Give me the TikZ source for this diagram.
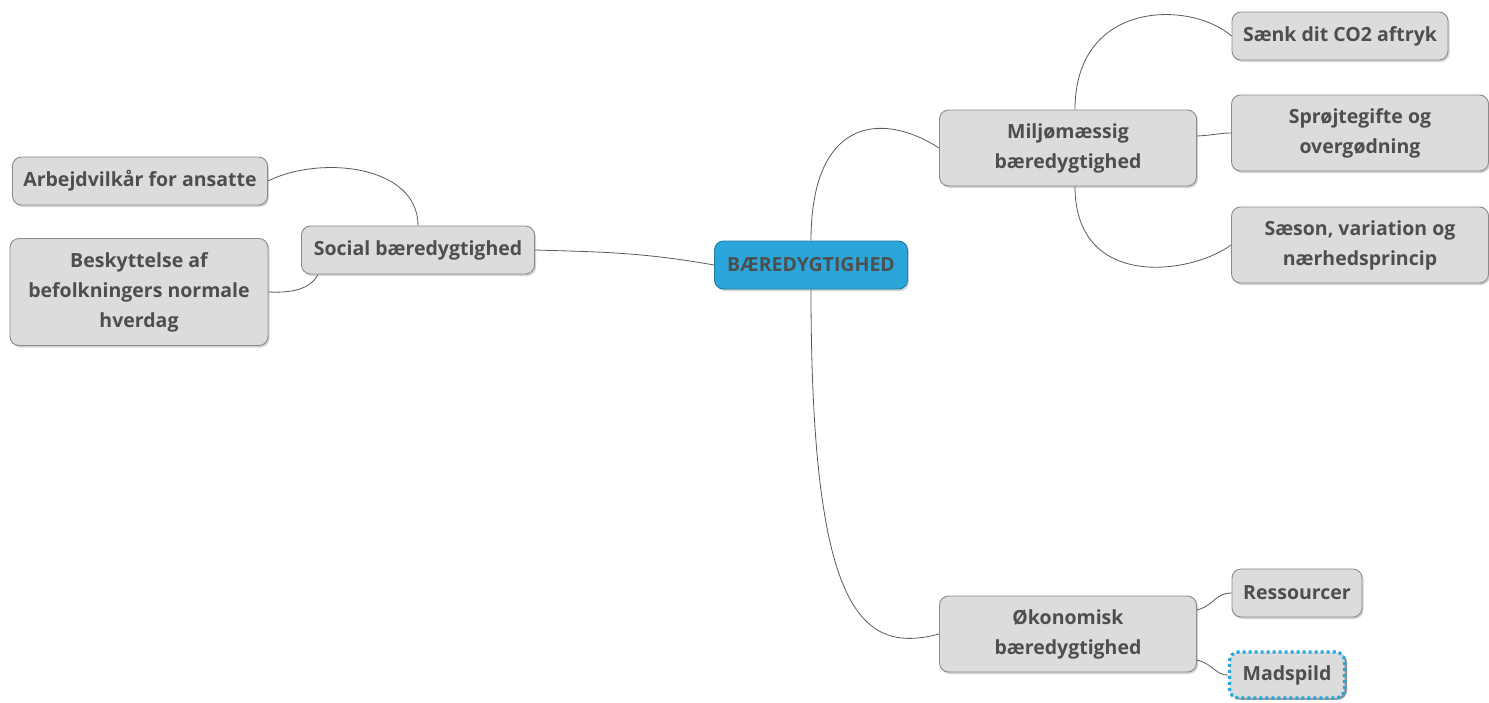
\documentclass[tikz,border=0pt]{standalone}
\usepackage{fontspec}
\setmainfont{Open Sans}
\usetikzlibrary{positioning,shadows}
\definecolor{boxfill}{HTML}{DCDCDC}
\definecolor{boxline}{HTML}{8A8A8A}
\definecolor{boxtext}{HTML}{4E4E4E}
\definecolor{hubfill}{HTML}{2AA6DA}
\definecolor{hubline}{HTML}{1C7DA6}
\definecolor{dotline}{HTML}{22A8E0}
\tikzset{
topic/.style={
  rectangle,
  rounded corners=9pt,
  draw=boxline,
  line width=0.9pt,
  fill=boxfill,
  text=boxtext,
  font=\fontsize{19.5}{30}\selectfont\bfseries,
  align=center,
  inner xsep=4pt,
  minimum height=48pt,
  drop shadow={shadow xshift=1.5pt,shadow yshift=-2pt,opacity=.35}
  },
twoline/.style={topic, minimum width=257pt, minimum height=76pt},
hub/.style={topic, fill=hubfill, draw=hubline},
link/.style={draw=black!65, line width=0.8pt}
}

\begin{document}
\begin{tikzpicture}[x=1pt,y=-1pt]
\useasboundingbox (0,0) rectangle (1489,702);

\node[hub, minimum width=193pt] (hub) at (811,265) {BÆREDYGTIGHED};

\node[topic, minimum width=233pt] (social) at (418,250) {Social bæredygtighed};
\node[topic, minimum width=255pt] (arbejd) at (140,181) {Arbejdvilkår for ansatte};
\node[twoline, minimum width=258pt, minimum height=107pt] (beskyt) at (139,292)
  {Beskyttelse af\\befolkningers normale\\hverdag};

\node[twoline] (miljo) at (1068,148) {Miljømæssig\\bæredygtighed};
\node[topic, minimum width=216pt] (co2) at (1340,36) {Sænk dit CO2 aftryk};
\node[twoline] (sprojt) at (1360,133) {Sprøjtegifte og\\overgødning};
\node[twoline] (saeson) at (1360,245) {Sæson, variation og\\nærhedsprincip};

\node[twoline] (okonom) at (1068,634) {Økonomisk\\bæredygtighed};
\node[topic, minimum width=130pt] (ressource) at (1297,593) {Ressourcer};
\node[topic, minimum width=115pt, minimum height=46pt,
  drop shadow={shadow xshift=2.5pt,shadow yshift=-1.5pt,opacity=.85},
  draw=dotline, line width=3.2pt, dash pattern=on 3pt off 3pt, line cap=butt]
  (madspild) at (1287,675) {Madspild};

% connectors
\draw[link] (hub.west) .. controls (640,252) and (600,252) .. (social.east);
\draw[link] (hub.north) .. controls (811,120) and (880,110) .. (miljo.west);
\draw[link] (hub.south) .. controls (811,610) and (860,655) .. (okonom.west);
\draw[link] (social.north) .. controls (418,165) and (320,155) .. (arbejd.east);
\draw[link] ([xshift=-100pt]social.south) .. controls (310,290) and (290,293) .. (beskyt.east);
\draw[link] ([xshift=7pt]miljo.north) .. controls (1075,0) and (1190,0) .. (co2.west);
\draw[link] ([yshift=12pt]miljo.east) .. controls (1215,135) and (1220,133) .. (sprojt.west);
\draw[link] ([xshift=7pt]miljo.south) .. controls (1075,290) and (1190,275) .. (saeson.west);
\draw[link] ([yshift=24pt]okonom.east) .. controls (1215,605) and (1215,593) .. (ressource.west);
\draw[link] ([yshift=-26pt]okonom.east) .. controls (1215,665) and (1215,675) .. (madspild.west);
\end{tikzpicture}
\end{document}
